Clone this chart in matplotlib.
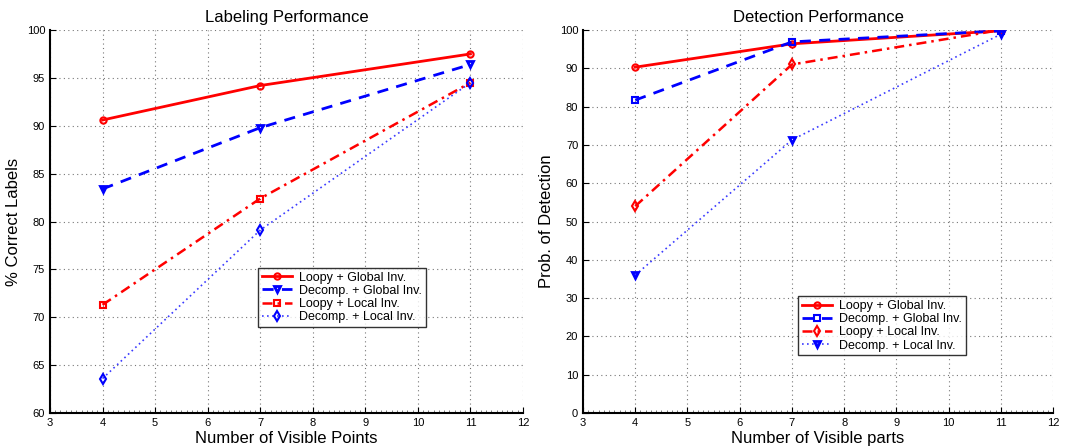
import matplotlib
matplotlib.use("Agg")
import matplotlib.pyplot as plt
from matplotlib.ticker import MultipleLocator

plt.rcParams['font.family'] = ['Liberation Sans', 'DejaVu Sans']

# Shared x values: number of visible points / parts
visible = [4, 7, 11]

# Labeling performance (% correct labels)
lab_loopy_global = [90.6, 94.2, 97.5]
lab_decomp_global = [83.4, 89.8, 96.4]
lab_loopy_local = [71.3, 82.4, 94.5]
lab_decomp_local = [63.6, 79.1, 94.5]

# Detection performance (probability of detection)
det_loopy_global = [90.3, 96.4, 99.8]
det_decomp_global = [81.7, 96.9, 99.8]
det_loopy_local = [54.0, 91.0, 100.0]
det_decomp_local = [36.0, 71.3, 98.9]

names = ["Loopy + Global Inv.", "Decomp. + Global Inv.",
         "Loopy + Local Inv.", "Decomp. + Local Inv."]

fig = plt.figure(figsize=(10.68, 4.48), dpi=100)
ax1 = fig.add_axes([0.0468, 0.0781, 0.4429, 0.8549])
ax2 = fig.add_axes([0.5459, 0.0781, 0.4401, 0.8549])


def style_axes(ax, ylim, ystep):
    ax.set_xlim(3, 12)
    ax.set_ylim(*ylim)
    ax.xaxis.set_major_locator(MultipleLocator(1))
    ax.yaxis.set_major_locator(MultipleLocator(ystep))
    ax.xaxis.set_minor_locator(MultipleLocator(0.1))
    ax.grid(True, which='major', linestyle=(0, (1, 3)), color='#777777', linewidth=0.8)
    ax.spines['top'].set_visible(False)
    ax.spines['right'].set_visible(False)
    ax.spines['left'].set_linewidth(1.5)
    ax.spines['bottom'].set_linewidth(1.5)
    ax.tick_params(which='both', direction='in', labelsize=8, length=4)
    ax.tick_params(which='minor', length=2, color='#666666')
    ax.tick_params(axis='y', which='minor', left=False)


def add_legend(ax, anchor):
    leg = ax.legend(loc='upper left', bbox_to_anchor=anchor, fontsize=9,
                    frameon=True, fancybox=False, edgecolor='black', handlelength=2.4,
                    borderpad=0.3, labelspacing=0.1, handletextpad=0.6, borderaxespad=0)
    leg.get_frame().set_linewidth(1.0)
    return leg


# Labeling panel
ax1.plot(visible, lab_loopy_global, color='red', linestyle='-', linewidth=2,
         marker='o', markersize=4.5, markerfacecolor='none', markeredgewidth=1.5, label=names[0])
ax1.plot(visible, lab_decomp_global, color='blue', linestyle=(0, (4, 3)), linewidth=2,
         marker='v', markersize=5, markerfacecolor='none', markeredgewidth=2, label=names[1])
ax1.plot(visible, lab_loopy_local, color='red', linestyle=(0, (4, 2, 1, 2)), linewidth=1.8,
         marker='s', markersize=4.5, markerfacecolor='none', markeredgewidth=1.5, label=names[2])
ax1.plot(visible, lab_decomp_local, color='#3a3aff', linestyle=(0, (1, 2)), linewidth=1.2,
         marker='d', markersize=5, markerfacecolor='none', markeredgewidth=1.5,
         markeredgecolor='blue', label=names[3])
style_axes(ax1, (60, 100), 5)
ax1.set_title("Labeling Performance", fontsize=12)
ax1.set_xlabel("Number of Visible Points", fontsize=12, labelpad=2)
ax1.set_ylabel("% Correct Labels", fontsize=12)
add_legend(ax1, (0.44, 0.379))

# Detection panel
ax2.plot(visible, det_loopy_global, color='red', linestyle='-', linewidth=2,
         marker='o', markersize=4.5, markerfacecolor='none', markeredgewidth=1.5, label=names[0])
ax2.plot(visible, det_decomp_global, color='blue', linestyle=(0, (4, 3)), linewidth=2,
         marker='s', markersize=4.5, markerfacecolor='none', markeredgewidth=1.5, label=names[1])
ax2.plot(visible, det_loopy_local, color='red', linestyle=(0, (4, 2, 1, 2)), linewidth=1.8,
         marker='d', markersize=5.5, markerfacecolor='none', markeredgewidth=1.5, label=names[2])
ax2.plot(visible, det_decomp_local, color='#3a3aff', linestyle=(0, (1, 2)), linewidth=1.2,
         marker='v', markersize=5, markerfacecolor='none', markeredgewidth=2,
         markeredgecolor='blue', label=names[3])
style_axes(ax2, (0, 100), 10)
ax2.set_title("Detection Performance", fontsize=12)
ax2.set_xlabel("Number of Visible parts", fontsize=12, labelpad=2)
ax2.set_ylabel("Prob. of Detection", fontsize=12)
add_legend(ax2, (0.457, 0.305))

fig.savefig("out.png", dpi=100)
